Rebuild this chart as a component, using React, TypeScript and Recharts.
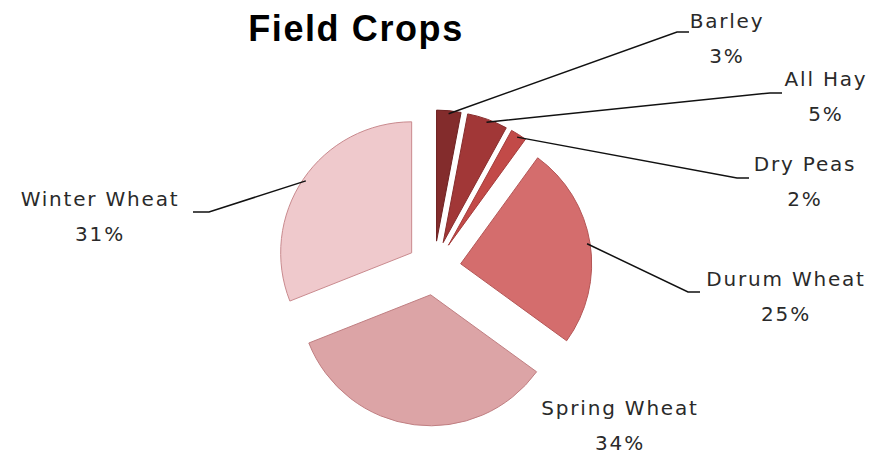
import { PieChart, Pie, Cell, Sector } from "recharts";

const crops = ["Barley", "All Hay", "Dry Peas", "Durum Wheat", "Spring Wheat", "Winter Wheat"];
const shares = [3, 5, 2, 25, 34, 31];

const sliceColors = ["#832c2c", "#a13737", "#c24a48", "#d46d6d", "#dca4a6", "#efc9cc"];
const edgeColors = ["#6e2222", "#862c2c", "#a33b3a", "#b45656", "#c07f82", "#c98a8e"];

// label layout, relative to the pie centre: elbow of the leader line, and centre of the name
const elbows: (number[] | null)[] = [[243, -236], [336, -175], [303, -90], [254, 24], null, [-225, -56]];
const textSpots = [[293, -247], [392, -189], [371, -104], [352, 11], [186, 140], [-334, -69]];

const data = crops.map((name, i) => ({ name, value: shares[i] }));

const RADIAN = Math.PI / 180;
const EXPLODE = 27;
const FONT = "'DejaVu Sans', sans-serif";

function ExplodedSlice(props: any) {
  const { cx, cy, midAngle } = props;
  const dx = EXPLODE * Math.cos(-midAngle * RADIAN);
  const dy = EXPLODE * Math.sin(-midAngle * RADIAN);
  return <Sector {...props} cx={cx + dx} cy={cy + dy} />;
}

function SliceLabel(props: any) {
  const { cx, cy, midAngle, outerRadius, index, name, value } = props;
  const spot = textSpots[index];
  const elbow = elbows[index];
  const r = outerRadius + EXPLODE - 3;
  const sx = cx + r * Math.cos(-midAngle * RADIAN);
  const sy = cy + r * Math.sin(-midAngle * RADIAN);
  const tx = cx + spot[0];
  const ty = cy + spot[1];
  let line = null;
  if (elbow) {
    const ex = cx + elbow[0];
    const ey = cy + elbow[1];
    const tail = elbow[0] > 0 ? 12 : -16;
    line = (
      <polyline
        points={`${sx},${sy} ${ex},${ey} ${ex + tail},${ey}`}
        fill="none"
        stroke="#111"
        strokeWidth={1.5}
      />
    );
  }
  return (
    <g>
      {line}
      <text x={tx} y={ty} textAnchor="middle" dominantBaseline="central" fill="#2a2a2a" fontSize={20} letterSpacing={1.8} fontFamily={FONT}>
        {name}
      </text>
      <text x={tx} y={ty + 35} textAnchor="middle" dominantBaseline="central" fill="#2a2a2a" fontSize={20} letterSpacing={1.8} fontFamily={FONT}>
        {value}%
      </text>
    </g>
  );
}

export default function App() {
  return (
    <div style={{ position: "fixed", left: 0, top: 0, width: 869, height: 457, background: "#fff" }}>
      <div
        style={{
          position: "absolute",
          left: 0,
          top: 11,
          width: 712,
          textAlign: "center",
          fontFamily: "'Liberation Sans', Arial, sans-serif",
          fontWeight: "bold",
          fontSize: 36,
          lineHeight: "36px",
          letterSpacing: 1.6,
          color: "#000",
        }}
      >
        Field Crops
      </div>
      <PieChart width={869} height={457} style={{ position: "absolute", left: 0, top: 0 }}>
        <Pie
          data={data}
          dataKey="value"
          nameKey="name"
          cx={429}
          cy={263}
          outerRadius={131}
          startAngle={90}
          endAngle={-270}
          shape={ExplodedSlice}
          label={SliceLabel}
          labelLine={false}
          isAnimationActive={false}
        >
          {data.map((d, i) => (
            <Cell key={d.name} fill={sliceColors[i]} stroke={edgeColors[i]} strokeWidth={1} />
          ))}
        </Pie>
      </PieChart>
    </div>
  );
}
